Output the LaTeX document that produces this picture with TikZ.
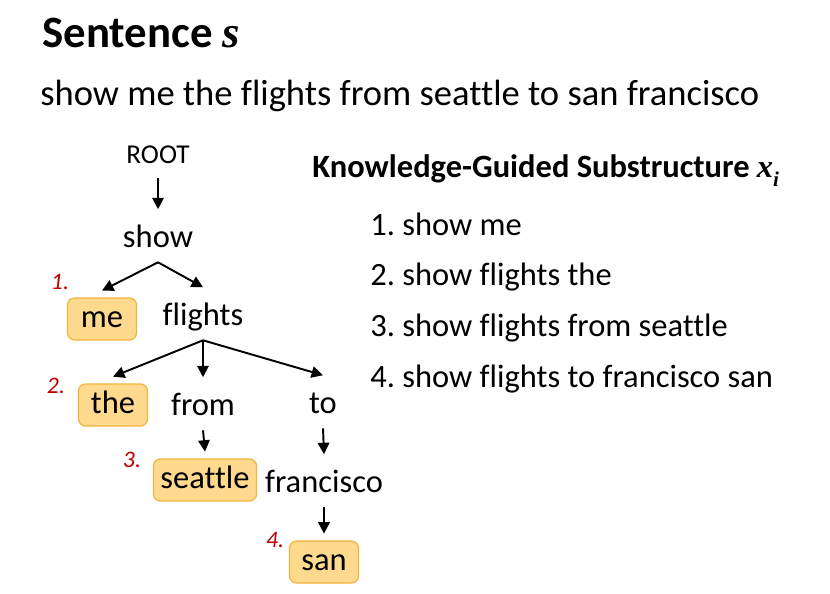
\documentclass[tikz,border=0pt]{standalone}
\usepackage{fontspec}
\setmainfont{Carlito}[Ligatures=NoCommon]
\newfontfamily\mathserif{Liberation Serif}
\usetikzlibrary{positioning,arrows.meta}
\definecolor{boxfill}{HTML}{FFD98E}
\definecolor{boxline}{HTML}{F2B43C}
\definecolor{numred}{HTML}{C00000}
\frenchspacing

\begin{document}
\begin{tikzpicture}
  [x=0.02cm,y=-0.02cm,
   every node/.style={inner sep=0pt},
   txt/.style={font=\fontsize{18.5}{22}\selectfont},
   word/.style={txt,text height=21.3pt,text depth=8.5pt},
   hl/.style={txt,text height=14pt,text depth=4pt,minimum height=0.84cm,minimum width=1.38cm,
     inner xsep=4pt,fill=boxfill,draw=boxline,line width=0.7pt,rounded corners=4pt,outer sep=4.2pt},
   num/.style={font=\fontsize{13.5}{15}\selectfont\itshape,text=numred},
   dep/.style={-{Triangle[length=6.5pt,width=6.5pt]},line width=1.1pt}]
  \useasboundingbox (0,0) rectangle (830,593);

  % header
  \node[anchor=base west,font=\fontsize{25.5}{28}\selectfont\bfseries] (title) at (42,47)
    {Sentence {\mathserif\itshape s}};
  \node[anchor=base west,font=\fontsize{20.8}{24}\selectfont] (sent) at (40,105)
    {show me the flights from seattle to san francisco};
  \node[anchor=base west,font=\fontsize{18.5}{22}\selectfont\bfseries] (kgs) at (312,177)
    {Knowledge-Guided Substructure {\mathserif\itshape x\raisebox{-0.3em}{\fontsize{12}{14}\selectfont i}}};

  % substructures
  \foreach \i/\items in {1/show me,2/show flights the,3/show flights from seattle,4/show flights to francisco san}
    \node[anchor=base west,txt] (item\i) at (370,{235+50.7*(\i-1)}) {\i. \items};

  % dependency tree
  \node[font=\fontsize{15.5}{18}\selectfont,text depth=8.5pt,anchor=base] (root) at (158,163) {ROOT};
  \node[word,anchor=base] (show) at (158,247) {show};
  \node[hl] (me) at (102,319) {me};
  \node[word,anchor=base] (flights) at (203,325) {flights};
  \node[hl] (the) at (113,405) {the};
  \node[word,anchor=base] (from) at (203,415) {from};
  \node[word,anchor=base] (to) at (323,413) {to};
  \node[hl] (seattle) at (205,480) {seattle};
  \node[word,anchor=base] (francisco) at (324,492) {francisco};
  \node[hl] (san) at (324,562) {san};

  \node[num] (n1) at (60,282) {1.};
  \node[num] (n2) at (56,386) {2.};
  \node[num] (n3) at (132,460) {3.};
  \node[num] (n4) at (275,540) {4.};

  \draw[dep] (root.south) -- (show.north);
  \foreach \from/\to in {show/me,show/flights,flights/the,flights/from,flights/to,from/seattle,to/francisco,francisco/san}
    \draw[dep] (\from.south) -- (\to.north);

\end{tikzpicture}
\end{document}
